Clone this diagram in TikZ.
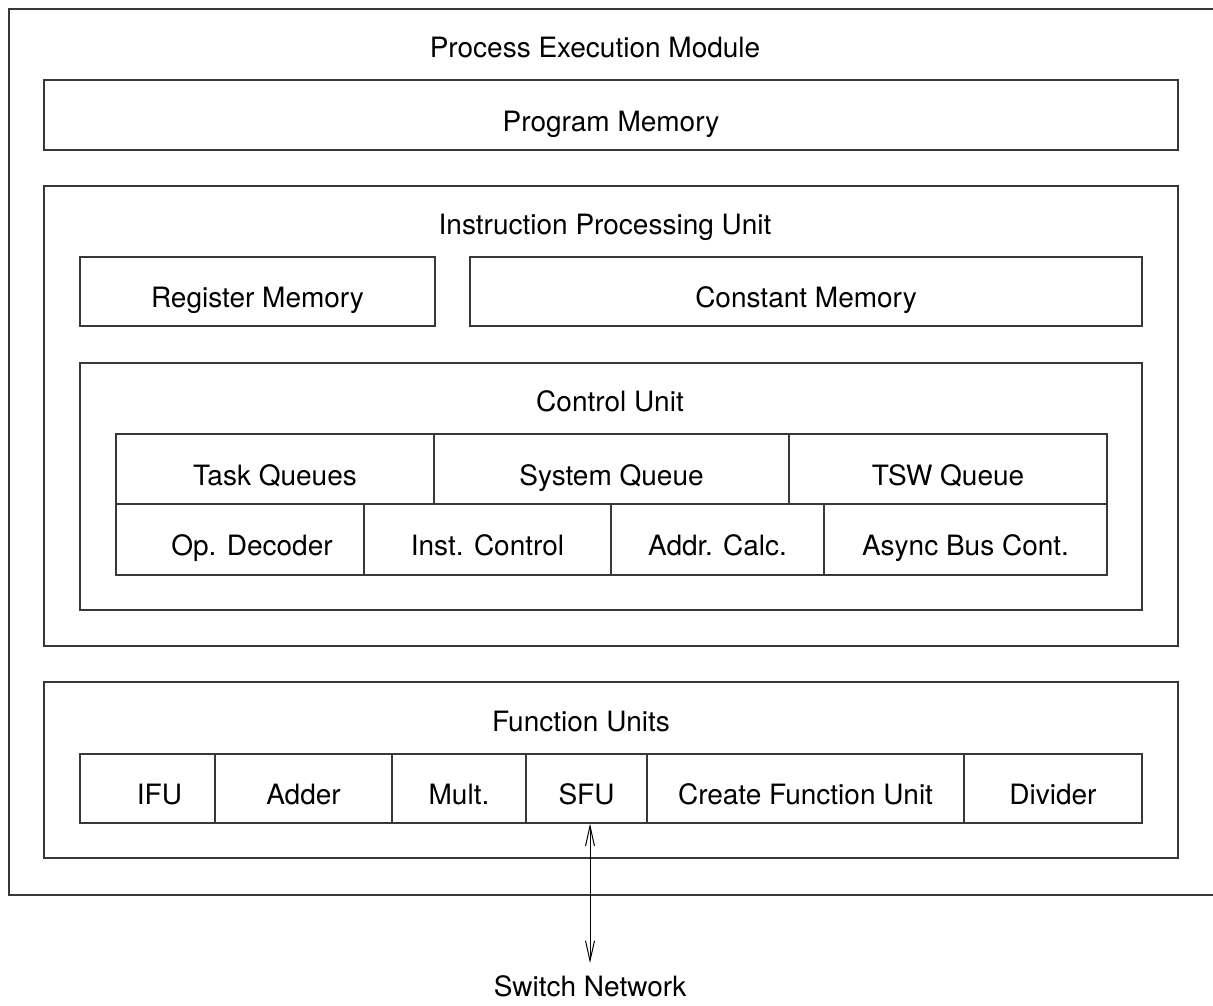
\documentclass[tikz,border=0pt]{standalone}
\usepackage{fontspec}
\setmainfont{TeX Gyre Heros}
\usetikzlibrary{arrows.meta}
\begin{document}
\begin{tikzpicture}[x=1pt,y=-1pt,
  box/.style={draw=black!78, line width=1.4pt, inner sep=0pt, text height=32pt, text depth=0pt, font=\fontsize{28}{32}\selectfont},
  ttl/.style={anchor=base, inner sep=0pt, font=\fontsize{28}{32}\selectfont},
  arr/.style={draw=black, line width=1pt, {Straight Barb[length=20pt,width=9pt]}-{Straight Barb[length=20pt,width=9pt]}}]
\useasboundingbox (0,0) rectangle (1213,1005);
% outer module
\node[box, minimum width=1212, minimum height=886] (pem) at (615,452) {};
\node[ttl] (pemt) at (595,57) {Process Execution Module};
\node[box, minimum width=1134, minimum height=70] (pm) at (611,115) {Program Memory};
% instruction processing unit
\node[box, minimum width=1134, minimum height=460] (ipu) at (611,416) {};
\node[ttl] (iput) at (605,234) {Instruction Processing Unit};
\node[box, minimum width=355, minimum height=69] (reg) at (257.5,291.5) {Register Memory};
\node[box, minimum width=672, minimum height=69] (con) at (806,291.5) {Constant Memory};
% control unit
\node[box, minimum width=1062, minimum height=247] (cu) at (611,486.5) {};
\node[ttl] (cut) at (610,411) {Control Unit};
\node[box, minimum width=318, minimum height=70] (tq) at (275,469) {Task Queues};
\node[box, minimum width=355, minimum height=70] (sq) at (611.5,469) {System Queue};
\node[box, minimum width=318, minimum height=70] (tsw) at (948,469) {TSW Queue};
\node[box, minimum width=248, minimum height=71] (opd) at (240,539.5) {\hspace*{24pt}Op. Decoder};
\node[box, minimum width=247, minimum height=71] (ic) at (487.5,539.5) {Inst. Control};
\node[box, minimum width=213, minimum height=71] (ac) at (717.5,539.5) {Addr. Calc.};
\node[box, minimum width=283, minimum height=71] (abc) at (965.5,539.5) {Async Bus Cont.};
% function units
\node[box, minimum width=1134, minimum height=176] (fu) at (611,770) {};
\node[ttl] (fut) at (581,731) {Function Units};
\node[box, minimum width=135, minimum height=69] (ifu) at (147.5,788.5) {\hspace*{24pt}IFU};
\node[box, minimum width=177, minimum height=69] (add) at (303.5,788.5) {Adder};
\node[box, minimum width=134, minimum height=69] (mul) at (459,788.5) {Mult.};
\node[box, minimum width=121, minimum height=69] (sfu) at (586.5,788.5) {SFU};
\node[box, minimum width=317, minimum height=69] (cfu) at (805.5,788.5) {Create Function Unit};
\node[box, minimum width=178, minimum height=69] (div) at (1053,788.5) {Divider};
% switch network
\node[ttl] (sw) at (590,996) {Switch Network};
\coordinate (swtip) at (590,963);
\draw[arr] (sfu.south -| swtip) -- (swtip);
\end{tikzpicture}
\end{document}
